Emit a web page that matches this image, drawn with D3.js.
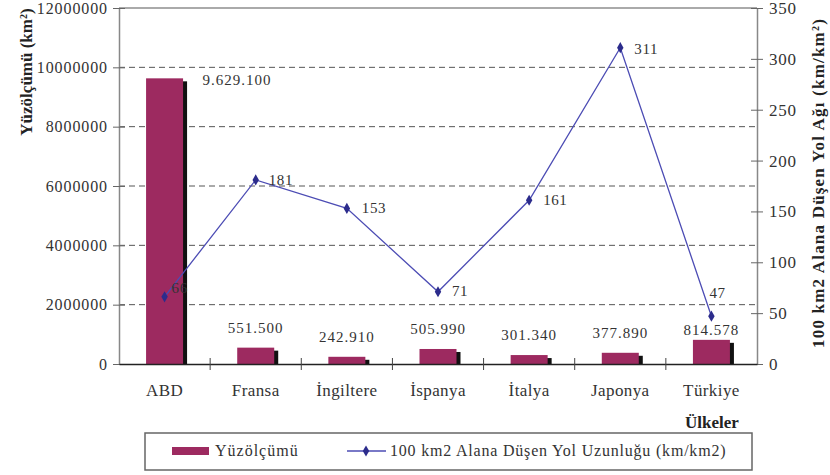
<!DOCTYPE html>
<html><head><meta charset="utf-8">
<script src="https://cdn.jsdelivr.net/npm/d3@7"></script>
<style>
body{margin:0;background:#fff;}
svg text{font-family:"Liberation Serif" !important;}
</style></head>
<body><svg id="c" width="830" height="475" font-family="Liberation Serif"></svg>
<script>
const categories = ["ABD","Fransa","İngiltere","İspanya","İtalya","Japonya","Türkiye"];
const areaValues = [9629100, 551500, 242910, 505990, 301340, 377890, 814578];
const areaLabels = ["9.629.100","551.500","242.910","505.990","301.340","377.890","814.578"];
const roadValues = [66, 181, 153, 71, 161, 311, 47];
const leftTicks = [0,2000000,4000000,6000000,8000000,10000000,12000000];
const rightTicks = [0,50,100,150,200,250,300,350];
const seriesNames = ["Yüzölçümü","100 km2 Alana Düşen Yol Uzunluğu (km/km2)"];

const FF = "Liberation Serif";
const svg = d3.select("#c");
const L=119, R=757, T=8, B=364;
const x = d3.scaleBand().domain(categories).range([L,R]);
const yL = d3.scaleLinear().domain([0,12000000]).range([B,T]);
const yR = d3.scaleLinear().domain([0,350]).range([B,T]);
const barColor="#9d2a60", lineColor="#4c4cb4", markColor="#2c2c8c";

function txt(sel, size){
  return sel.attr("font-family",FF).style("font-family",'"Liberation Serif"').attr("font-size",size).style("font-size",size+"px");
}

// top border
svg.append("line").attr("x1",L).attr("x2",R).attr("y1",T).attr("y2",T).attr("stroke","#aaa").attr("stroke-width",2);
// gridlines
svg.append("g").selectAll("line").data(leftTicks.filter(d=>d>0&&d<12000000)).join("line")
  .attr("x1",L).attr("x2",R).attr("y1",d=>yL(d)).attr("y2",d=>yL(d))
  .attr("stroke","#555").attr("stroke-width",1).attr("stroke-dasharray","6,4");

// left axis
const gl = svg.append("g").attr("transform",`translate(${L},0)`)
  .call(d3.axisLeft(yL).tickValues(leftTicks).tickFormat(d=>String(d)).tickSizeInner(6).tickSizeOuter(0).tickPadding(5));
gl.attr("font-family",FF);
gl.select(".domain").attr("stroke","#888").attr("stroke-width",1.5);
gl.selectAll(".tick line").attr("x1",6).attr("stroke","#666");
txt(gl.selectAll("text"),16).attr("letter-spacing","0.9px").attr("fill","#333");

// right axis
const gr = svg.append("g").attr("transform",`translate(${R},0)`)
  .call(d3.axisRight(yR).tickValues(rightTicks).tickSizeInner(6).tickSizeOuter(0).tickPadding(6));
gr.attr("font-family",FF);
gr.select(".domain").attr("stroke","#888").attr("stroke-width",1.5);
gr.selectAll(".tick line").attr("x1",-6).attr("stroke","#666");
txt(gr.selectAll("text"),17).attr("letter-spacing","0.8px").attr("fill","#333");

// bars
const bw = 37;
const bars = svg.append("g");
bars.selectAll("rect.sh").data(areaValues).join("rect").attr("class","sh")
  .attr("x",(d,i)=>x(categories[i])+x.bandwidth()/2-bw/2+4)
  .attr("y",d=>yL(d)+3).attr("width",bw).attr("height",d=>B-yL(d)-3).attr("fill","#111");
bars.selectAll("rect.b").data(areaValues).join("rect").attr("class","b")
  .attr("x",(d,i)=>x(categories[i])+x.bandwidth()/2-bw/2)
  .attr("y",d=>yL(d)).attr("width",bw).attr("height",d=>B-yL(d)).attr("fill",barColor);

// bottom axis
const gb = svg.append("g").attr("transform",`translate(0,${B})`)
  .call(d3.axisBottom(x).tickSize(0).tickPadding(20));
gb.attr("font-family",FF);
gb.select(".domain").attr("stroke","#222").attr("stroke-width",1.5);
txt(gb.selectAll("text"),17).attr("letter-spacing","0.4px").attr("fill","#333");
svg.append("g").selectAll("line").data(categories.slice(1)).join("line")
  .attr("x1",d=>x(d)).attr("x2",d=>x(d)).attr("y1",B-6).attr("y2",B+6).attr("stroke","#444");

// bar labels
const barLabelDy = [0,-15,-15,-15,-15,-15,-5];
txt(svg.append("g").selectAll("text").data(areaValues).join("text"),15)
  .attr("x",(d,i)=> i===0 ? x(categories[i])+x.bandwidth()/2+38 : x(categories[i])+x.bandwidth()/2)
  .attr("y",(d,i)=> i===0 ? yL(d)+7 : yL(d)+barLabelDy[i])
  .attr("text-anchor",(d,i)=> i===0?"start":"middle")
  .attr("letter-spacing","1px").attr("fill","#333")
  .text((d,i)=>areaLabels[i]);

// line
const cx = i => x(categories[i])+x.bandwidth()/2;
svg.append("path").datum(roadValues)
  .attr("d",d3.line().x((d,i)=>cx(i)).y(d=>yR(d)))
  .attr("fill","none").attr("stroke",lineColor).attr("stroke-width",1.3);
svg.append("g").selectAll("path").data(roadValues).join("path")
  .attr("transform",(d,i)=>`translate(${cx(i)},${yR(d)})`)
  .attr("d",d3.symbol(d3.symbolDiamond,36)).attr("fill",markColor);
const lo = [[7,-4],[13,5],[15,5],[14,4],[14,5],[14,6],[-2,-18]];
txt(svg.append("g").selectAll("text").data(roadValues).join("text"),15)
  .attr("x",(d,i)=>cx(i)+lo[i][0]).attr("y",(d,i)=>yR(d)+lo[i][1])
  .attr("letter-spacing","0.6px").attr("fill","#333").text(d=>d);

// axis titles
txt(svg.append("text"),17).attr("transform","translate(32,72) rotate(-90)").attr("text-anchor","middle")
  .attr("font-weight","bold").attr("fill","#222")
  .html('Yüzölçümü (km<tspan baseline-shift="super" font-size="10">2</tspan>)');
txt(svg.append("text"),17).attr("transform","translate(824,183) rotate(-90)").attr("text-anchor","middle")
  .attr("font-weight","bold").attr("fill","#222").attr("letter-spacing","1.2px")
  .html('100 km2 Alana Düşen Yol Ağı (km/km<tspan baseline-shift="super" font-size="10">2</tspan>)');
txt(svg.append("text"),17).attr("x",712).attr("y",428).attr("text-anchor","middle")
  .attr("font-weight","bold").attr("fill","#222").text("Ülkeler");

// legend
const lg = svg.append("g");
lg.append("rect").attr("x",145).attr("y",433).attr("width",607).attr("height",37)
  .attr("fill","#fff").attr("stroke","#666").attr("stroke-width",1.5);
lg.append("rect").attr("x",172).attr("y",447).attr("width",37).attr("height",8).attr("fill",barColor);
txt(lg.append("text"),16).attr("x",215).attr("y",456).attr("fill","#333").attr("letter-spacing","1px").text(seriesNames[0]);
lg.append("line").attr("x1",347).attr("x2",386).attr("y1",451).attr("y2",451).attr("stroke",lineColor).attr("stroke-width",1.3);
lg.append("path").attr("transform","translate(366,451)").attr("d",d3.symbol(d3.symbolDiamond,36)).attr("fill",markColor);
txt(lg.append("text"),16).attr("x",390).attr("y",456).attr("fill","#333").attr("letter-spacing","0.8px").text(seriesNames[1]);
</script></body></html>
